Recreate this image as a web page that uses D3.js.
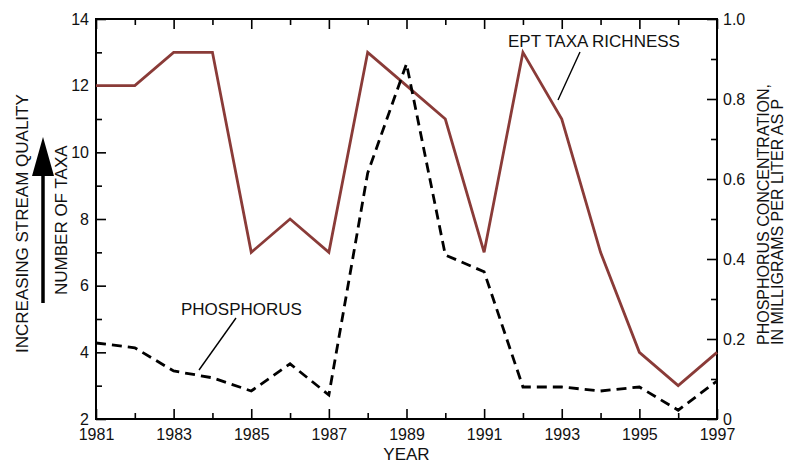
<!DOCTYPE html>
<html>
<head>
<meta charset="utf-8">
<script src="https://cdn.jsdelivr.net/npm/d3@7"></script>
<style>
  body { margin: 0; background: #fff; }
  svg { font-family: "Liberation Sans", Arial, sans-serif; }
</style>
</head>
<body>
<div id="chart"></div>
<script>
// values
const years = [1981, 1982, 1983, 1984, 1985, 1986, 1987, 1988, 1989,
               1990, 1991, 1992, 1993, 1994, 1995, 1996, 1997];
const eptTaxa = [12, 12, 13, 13, 7, 8, 7, 13, 12, 11, 7, 13, 11, 7, 4, 3, 4];
const phosphorus = [0.19, 0.178, 0.12, 0.103, 0.07, 0.138, 0.06, 0.615, 0.888,
                    0.41, 0.368, 0.08, 0.08, 0.07, 0.08, 0.022, 0.095];
const yearTicks = [1981, 1983, 1985, 1987, 1989, 1991, 1993, 1995, 1997];
const taxaTicks = [2, 4, 6, 8, 10, 12, 14];
const phosTicks = [0, 0.2, 0.4, 0.6, 0.8, 1.0];
const phosTickLabels = ["0", "0.2", "0.4", "0.6", "0.8", "1.0"];

const margin = { top: 19, right: 81, bottom: 44, left: 96 };
const size = { width: 798, height: 463 };
const width = size.width - margin.left - margin.right;
const height = size.height - margin.top - margin.bottom;

const svg = d3.select("#chart")
    .append("svg")
    .attr("width", size.width)
    .attr("height", size.height);

const g = svg.append("g")
    .attr("transform", `translate(${margin.left}, ${margin.top})`);

const xScale = d3.scaleLinear().domain([1981, 1997]).range([0, width]);
const yScale = d3.scaleLinear().domain([2, 14]).range([height, 0]);
const pScale = d3.scaleLinear().domain([0, 1]).range([height, 0]);

const minorYears = years.filter(y => !yearTicks.includes(y));
const minorTaxa = d3.range(3, 14, 2);
const minorPhos = [0.1, 0.3, 0.5, 0.7, 0.9];

function styleAxis(sel) {
    sel.select(".domain").remove();
    sel.selectAll(".tick line").attr("stroke", "#000").attr("stroke-width", 1.6);
    sel.selectAll(".tick text")
        .attr("fill", "#111")
        .style("font-size", "16px");
}

// bottom
g.append("g").attr("transform", `translate(0, ${height})`)
    .call(d3.axisBottom(xScale).tickValues(yearTicks).tickFormat(d3.format("d"))
        .tickSizeInner(-10).tickSizeOuter(0).tickPadding(10))
    .call(styleAxis);
g.append("g").attr("transform", `translate(0, ${height})`)
    .call(d3.axisBottom(xScale).tickValues(minorYears).tickFormat("")
        .tickSizeInner(-6).tickSizeOuter(0))
    .call(styleAxis);
// top
g.append("g")
    .call(d3.axisTop(xScale).tickValues(yearTicks).tickFormat("")
        .tickSizeInner(-10).tickSizeOuter(0))
    .call(styleAxis);
g.append("g")
    .call(d3.axisTop(xScale).tickValues(minorYears).tickFormat("")
        .tickSizeInner(-6).tickSizeOuter(0))
    .call(styleAxis);
// left
g.append("g")
    .call(d3.axisLeft(yScale).tickValues(taxaTicks).tickFormat(d3.format("d"))
        .tickSizeInner(-10).tickSizeOuter(0).tickPadding(7))
    .call(styleAxis);
g.append("g")
    .call(d3.axisLeft(yScale).tickValues(minorTaxa).tickFormat("")
        .tickSizeInner(-6).tickSizeOuter(0))
    .call(styleAxis);
// right
g.append("g").attr("transform", `translate(${width}, 0)`)
    .call(d3.axisRight(pScale).tickValues(phosTicks)
        .tickFormat((d, i) => phosTickLabels[i])
        .tickSizeInner(-10).tickSizeOuter(0).tickPadding(6))
    .call(styleAxis);
g.append("g").attr("transform", `translate(${width}, 0)`)
    .call(d3.axisRight(pScale).tickValues(minorPhos).tickFormat("")
        .tickSizeInner(-6).tickSizeOuter(0))
    .call(styleAxis);

// frame
g.append("rect")
    .attr("width", width)
    .attr("height", height)
    .attr("fill", "none")
    .attr("stroke", "#000")
    .attr("stroke-width", 2);

// lines
const eptLine = d3.line()
    .x((d, i) => xScale(years[i]))
    .y(d => yScale(d));
const phosLine = d3.line()
    .x((d, i) => xScale(years[i]))
    .y(d => pScale(d));

g.append("path")
    .attr("d", eptLine(eptTaxa))
    .attr("fill", "none")
    .attr("stroke", "#8a3b38")
    .attr("stroke-width", 2.8)
    .attr("stroke-linejoin", "miter");

g.append("path")
    .attr("d", phosLine(phosphorus))
    .attr("fill", "none")
    .attr("stroke", "#000")
    .attr("stroke-width", 2.8)
    .attr("stroke-dasharray", "10,6");

// annotations
g.append("text")
    .attr("x", 412)
    .attr("y", 28)
    .style("font-size", "17px")
    .attr("fill", "#111")
    .text("EPT TAXA RICHNESS");
g.append("line")
    .attr("x1", 484).attr("y1", 33)
    .attr("x2", 462).attr("y2", 81)
    .attr("stroke", "#000").attr("stroke-width", 1.4);

g.append("text")
    .attr("x", 85)
    .attr("y", 296)
    .style("font-size", "17px")
    .attr("fill", "#111")
    .text("PHOSPHORUS");
g.append("line")
    .attr("x1", 140).attr("y1", 299)
    .attr("x2", 103).attr("y2", 351)
    .attr("stroke", "#000").attr("stroke-width", 1.4);

// axis titles
svg.append("text")
    .attr("x", margin.left + width / 2)
    .attr("y", 460)
    .attr("text-anchor", "middle")
    .style("font-size", "17px")
    .attr("fill", "#111")
    .text("YEAR");

svg.append("text")
    .attr("transform", "translate(28, 353) rotate(-90)")
    .style("font-size", "17px")
    .attr("fill", "#111")
    .text("INCREASING STREAM QUALITY");

svg.append("text")
    .attr("transform", "translate(67, 295) rotate(-90)")
    .style("font-size", "17px")
    .attr("fill", "#111")
    .text("NUMBER OF TAXA");

svg.append("text")
    .attr("transform", "translate(769, 345) rotate(-90)")
    .style("font-size", "16px")
    .attr("fill", "#111")
    .text("PHOSPHORUS CONCENTRATION,");

svg.append("text")
    .attr("transform", "translate(783, 345) rotate(-90)")
    .style("font-size", "16px")
    .attr("fill", "#111")
    .text("IN MILLIGRAMS PER LITER AS P");

// quality arrow
svg.append("line")
    .attr("x1", 43).attr("y1", 303)
    .attr("x2", 43).attr("y2", 170)
    .attr("stroke", "#000").attr("stroke-width", 3.5);
svg.append("path")
    .attr("d", "M32,176 L54,176 L43,137 Z")
    .attr("fill", "#000");
</script>
</body>
</html>
